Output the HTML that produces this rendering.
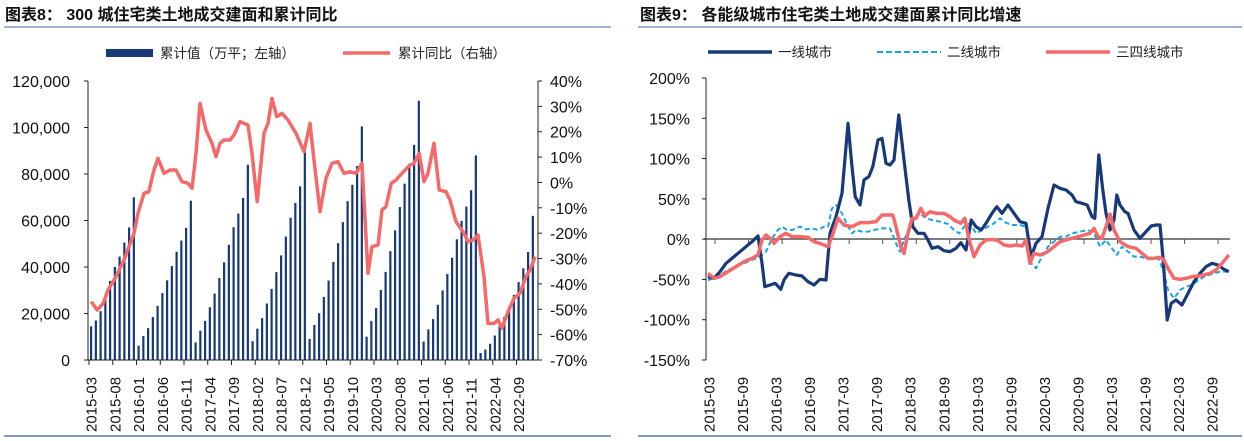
<!DOCTYPE html>
<html><head><meta charset="utf-8"><style>
body{margin:0;background:#fff;}
svg{display:block;font-family:"Liberation Sans","Noto Sans CJK SC",sans-serif;}
</style></head><body>
<svg id="s" width="1244" height="441" viewBox="0 0 1244 441" xmlns="http://www.w3.org/2000/svg">
<rect width="1244" height="441" fill="#fff"/>
<text x="5" y="20" font-size="16" font-weight="bold" fill="#111">图表8：  300 城住宅类土地成交建面和累计同比</text>
<line x1="4" y1="27" x2="611" y2="27" stroke="#7f9cc0" stroke-width="1.5"/>
<line x1="4" y1="436" x2="611" y2="436" stroke="#7f9cc0" stroke-width="2"/>
<text x="640" y="20" font-size="16" font-weight="bold" fill="#111">图表9：  各能级城市住宅类土地成交建面累计同比增速</text>
<line x1="638" y1="27" x2="1242" y2="27" stroke="#7f9cc0" stroke-width="1.5"/>
<line x1="638" y1="436" x2="1242" y2="436" stroke="#7f9cc0" stroke-width="2"/>

<text x="160" y="58" font-size="13.5" fill="#222">累计值（万平；左轴）</text>
<rect x="106" y="49" width="47" height="8" fill="#17397a"/>
<line x1="343" y1="53" x2="390" y2="53" stroke="#f46a6a" stroke-width="3.5"/>
<text x="398" y="58" font-size="13.5" fill="#222">累计同比（右轴）</text>
<line x1="708" y1="52" x2="772" y2="52" stroke="#17397a" stroke-width="3.5"/>
<text x="778" y="57" font-size="13.5" fill="#222">一线城市</text>
<line x1="877" y1="52" x2="941" y2="52" stroke="#1aa3e8" stroke-width="2" stroke-dasharray="6,3"/>
<text x="947" y="57" font-size="13.5" fill="#222">二线城市</text>
<line x1="1046" y1="52" x2="1110" y2="52" stroke="#f46a6a" stroke-width="3.5"/>
<text x="1116" y="57" font-size="13.5" fill="#222">三四线城市</text>

<g id="lbars"></g>
<g id="laxis" font-size="16" fill="#111"></g>
<g transform="scale(0.4,0.33333)"><polyline fill="none" stroke="#f46a6a" stroke-width="3.5" vector-effect="non-scaling-stroke" stroke-linejoin="round" points="228,905 243,930 258,910 270,870 290,830 310,780 335,700 345,640 360,580 372,575 385,510 395,475 410,520 425,510 440,510 455,545 470,550 480,565 490,460 500,310 515,390 530,430 540,470 550,430 560,420 575,420 585,405 600,365 620,375 630,460 643,605 660,400 670,370 680,295 692,350 705,340 720,360 740,400 760,455 775,370 785,480 800,635 815,535 830,490 845,485 860,520 875,515 890,520 905,490 920,820 930,740 945,735 955,630 965,620 978,550 990,540 1005,520 1025,495 1035,490 1048,460 1060,545 1070,520 1085,430 1098,570 1115,575 1125,600 1140,665 1160,700 1170,725 1183,720 1195,705 1210,830 1220,970 1235,970 1245,960 1255,985 1270,935 1285,895 1300,880 1315,830 1325,810 1338,770"/></g>

<g id="raxis" font-size="16" fill="#111"></g>
<g transform="translate(624,0) scale(0.4,0.33333)" fill="none" stroke-linejoin="round">
<polyline stroke="#1aa3e8" stroke-width="2" stroke-dasharray="5,3" vector-effect="non-scaling-stroke" points="210,840 225,835 240,825 260,810 280,800 300,790 320,780 340,770 355,755 370,715 385,690 395,680 405,688 420,690 440,680 455,688 470,685 485,690 500,680 510,680 520,625 530,615 545,640 560,680 570,700 580,690 595,695 610,695 625,690 645,685 665,685 680,730 690,755 700,720 712,690 725,660 740,640 755,655 770,660 790,665 810,672 825,690 838,700 850,680 865,670 880,700 895,690 910,680 925,670 940,655 955,668 970,675 990,675 1005,680 1018,790 1030,805 1045,770 1060,740 1075,725 1090,710 1105,710 1120,700 1140,695 1160,690 1175,700 1190,740 1205,720 1220,745 1232,765 1245,740 1260,755 1275,770 1290,770 1305,775 1320,775 1335,775 1348,810 1360,870 1375,895 1390,870 1405,860 1420,855 1435,842 1450,830 1470,822 1490,815 1512,815"/>
<polyline stroke="#17397a" stroke-width="3.2" vector-effect="non-scaling-stroke" points="210,830 225,835 240,815 255,790 265,780 280,765 300,745 320,725 335,708 345,790 352,860 365,855 378,850 392,868 400,840 412,820 430,825 445,828 460,845 475,855 490,838 505,840 515,700 530,650 545,580 560,370 570,500 578,590 590,615 600,540 612,530 622,500 635,420 645,415 655,490 665,495 675,480 687,345 700,480 712,600 722,680 735,700 750,700 760,720 770,745 785,740 800,752 815,755 830,745 842,728 855,750 868,660 880,680 893,690 905,670 920,640 932,620 945,640 960,615 975,640 990,665 1005,670 1018,770 1030,730 1045,710 1060,625 1075,555 1090,565 1105,570 1120,585 1130,605 1145,610 1158,615 1170,650 1177,655 1187,465 1197,570 1205,640 1215,690 1225,660 1232,585 1240,615 1252,635 1260,640 1275,690 1290,715 1305,695 1318,678 1330,675 1340,675 1348,780 1358,960 1368,910 1380,900 1395,915 1410,880 1425,845 1440,820 1455,800 1470,790 1485,795 1500,808 1512,815"/>
<polyline stroke="#f46a6a" stroke-width="3.5" vector-effect="non-scaling-stroke" points="210,820 225,835 240,830 260,815 280,800 300,785 320,775 335,765 345,720 355,705 365,715 375,730 390,710 405,700 420,710 440,710 460,712 475,725 490,730 510,740 520,710 535,655 550,675 570,680 590,668 610,668 630,665 645,645 660,645 672,645 680,680 692,740 700,760 710,700 720,655 730,655 742,625 752,648 765,635 780,640 800,640 815,650 825,660 842,670 852,655 862,715 875,770 890,735 905,720 920,718 935,722 950,735 965,738 980,735 995,738 1005,720 1015,790 1025,760 1040,765 1055,758 1070,745 1090,725 1110,718 1130,712 1150,705 1165,700 1175,685 1185,710 1195,715 1205,680 1215,642 1225,690 1240,725 1260,740 1280,745 1295,760 1310,775 1325,775 1340,772 1350,780 1360,805 1375,835 1390,838 1405,835 1420,830 1435,828 1450,825 1465,820 1480,810 1495,790 1512,765"/>
</g>
</svg>
<script>
var NS="http://www.w3.org/2000/svg";
function el(p,t,a,txt){var e=document.createElementNS(NS,t);for(var k in a)e.setAttribute(k,a[k]);if(txt!=null)e.textContent=txt;p.appendChild(e);return e;}
var lb=document.getElementById('lbars'),la=document.getElementById('laxis'),ra=document.getElementById('raxis');
var fr=[0.09,0.15,0.2,0.27,0.34,0.42,0.5,0.59,0.68,0.75,0.83,1];
var tot={2016:68500,2017:84000,2018:90000,2019:100500,2020:111500,2021:88000,2022:62000};
var vals=[14500,17000,21000,27000,34000,40000,44500,50500,57000,70000];
for(var y=2016;y<=2022;y++)for(var m=0;m<12;m++){var v=tot[y]*fr[m];if(y==2022){v=[3000,4500,7000,10500,14500,18500,23000,28000,33500,39500,46500,62000][m];}vals.push(v);}
function Y(v){return 360-v/120000*279;}
vals.forEach(function(v,i){var x=91+i*4.75;el(lb,'rect',{x:x-1,y:Y(v),width:2.2,height:360-Y(v),fill:'#17397a'});});
el(la,'line',{x1:88,y1:81,x2:88,y2:360,stroke:'#222','stroke-width':1});
el(la,'line',{x1:538,y1:81,x2:538,y2:360,stroke:'#222','stroke-width':1});
el(la,'line',{x1:85,y1:360,x2:541,y2:360,stroke:'#222','stroke-width':1});
for(var k=0;k<=6;k++){var v=k*20000,yy=Y(v);el(la,'line',{x1:84,y1:yy,x2:88,y2:yy,stroke:'#222'});el(la,'text',{x:70,y:yy+6,'text-anchor':'end'},v.toLocaleString('en-US'));}
for(var k=0;k<=11;k++){var yy=81+k*279/11;var p=40-k*10;el(la,'line',{x1:538,y1:yy,x2:542,y2:yy,stroke:'#222'});el(la,'text',{x:550,y:yy+6},p+'%');}
var mo=['01','02','03','04','05','06','07','08','09','10','11','12'];
for(var i=0;i<=90;i+=5){var x=91+i*4.75;var t=2+i,yr=2015+Math.floor(t/12),mm=mo[t%12];el(la,'line',{x1:x-2,y1:360,x2:x-2,y2:365,stroke:'#222'});el(la,'text',{transform:'translate('+(x+5.5)+',432) rotate(-90)','font-size':15},yr+'-'+mm);}
el(ra,'line',{x1:706,y1:78,x2:706,y2:360,stroke:'#222'});
el(ra,'line',{x1:704,y1:239,x2:1230,y2:239,stroke:'#555','stroke-width':1.5});
for(var k=0;k<=7;k++){var p=200-k*50,yy=78+k*(282/7);el(ra,'line',{x1:702,y1:yy,x2:706,y2:yy,stroke:'#222'});el(ra,'text',{x:690,y:yy+6,'text-anchor':'end'},p+'%');}
for(var i=0;i<=90;i+=6){var x=709+i*5.59;var t=2+i,yr=2015+Math.floor(t/12),mm=mo[t%12];el(ra,'line',{x1:x+6,y1:239,x2:x+6,y2:244,stroke:'#555'});el(ra,'text',{transform:'translate('+(x+5.5)+',432) rotate(-90)','font-size':15},yr+'-'+mm);}
</script>
</body></html>
